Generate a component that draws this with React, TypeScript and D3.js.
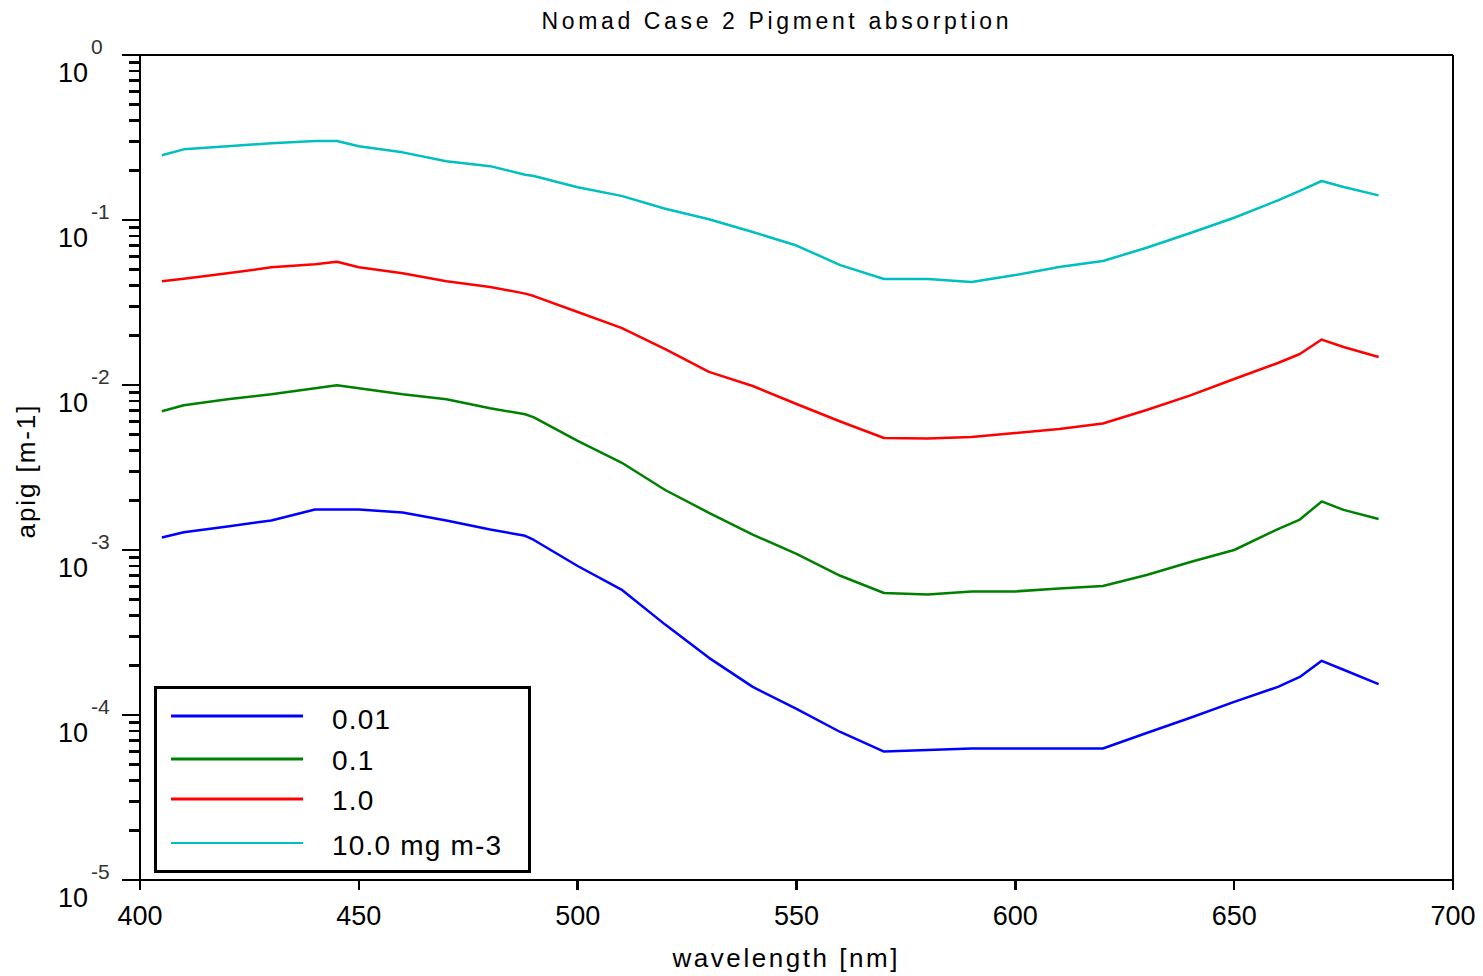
import React from "react";
import * as d3 from "d3";

const wavelengths = [405, 410, 420, 430, 440, 445, 450, 460, 470, 480, 488, 490, 500, 510, 520, 530, 540, 550, 560, 570, 580, 590, 600, 610, 620, 630, 640, 650, 660, 665, 670, 675, 683];

const chl001 = [0.00119, 0.00128, 0.00139, 0.00151, 0.00176, 0.00176, 0.00176, 0.00169, 0.00151, 0.00133, 0.00122, 0.00115, 0.0008, 0.000576, 0.000353, 0.000222, 0.000148, 0.000109, 0.0000789, 0.00006, 0.0000614, 0.0000627, 0.0000627, 0.0000627, 0.0000627, 0.0000778, 0.0000963, 0.00012, 0.000148, 0.00017, 0.000213, 0.000188, 0.000154];

const chl01 = [0.00693, 0.00753, 0.00819, 0.00878, 0.00955, 0.00996, 0.00955, 0.00878, 0.00819, 0.00722, 0.00665, 0.00637, 0.00458, 0.00339, 0.00231, 0.00168, 0.00124, 0.000946, 0.000698, 0.000549, 0.000537, 0.000561, 0.000561, 0.000584, 0.000605, 0.000706, 0.000846, 0.001, 0.00134, 0.00153, 0.00197, 0.00175, 0.00154];

const chl1 = [0.0425, 0.0441, 0.0475, 0.0517, 0.0539, 0.0559, 0.0517, 0.0475, 0.0425, 0.0393, 0.0358, 0.0346, 0.0277, 0.0222, 0.0165, 0.012, 0.00986, 0.00767, 0.00601, 0.00477, 0.00474, 0.00484, 0.00512, 0.00541, 0.00584, 0.00706, 0.00865, 0.01087, 0.01359, 0.01541, 0.01885, 0.017, 0.01478];

const chl10 = [0.247, 0.268, 0.28, 0.292, 0.301, 0.301, 0.28, 0.257, 0.227, 0.212, 0.188, 0.185, 0.158, 0.14, 0.117, 0.101, 0.0846, 0.07, 0.0533, 0.0439, 0.0439, 0.0421, 0.0464, 0.0519, 0.0564, 0.0679, 0.0834, 0.1032, 0.1315, 0.1503, 0.1723, 0.1585, 0.141];

const seriesLabels = ["0.01", "0.1", "1.0", "10.0 mg m-3"];
const seriesColors = ["#0000ff", "#008000", "#ff0000", "#00bfbf"];
const xTicks = [400, 450, 500, 550, 600, 650, 700];
const yExponents = [0, -1, -2, -3, -4, -5];

const W = 1483;
const H = 976;
const L = 140, R = 1453, T = 55, B = 880;

export default function App() {
  const x = d3.scaleLinear().domain([400, 700]).range([L, R]);
  const y = d3.scaleLog().domain([1e-5, 1]).range([B, T]);
  const series = [chl001, chl01, chl1, chl10];
  const line = d3
    .line<number>()
    .x((_, i) => x(wavelengths[i]))
    .y((d) => y(d));

  const minor: number[] = [];
  for (let e = -5; e < 0; e++) {
    for (let m = 2; m <= 9; m++) minor.push(m * Math.pow(10, e));
  }

  const font = "'Liberation Sans', Arial, sans-serif";
  const legendY = [716, 759, 799, 843];
  const legendTextY = [729, 770, 810, 855];

  return (
    <svg
      width={W}
      height={H}
      style={{ position: "absolute", left: 0, top: 0, background: "#fff" }}
      fontFamily={font}
    >
      <rect x={0} y={0} width={W} height={H} fill="#fff" />
      <text x={775} y={29} fontSize={23} textAnchor="middle" textLength={467} lengthAdjust="spacing" fill="#000">
        Nomad Case 2 Pigment absorption
      </text>

      {/* data lines */}
      <g>
        {series.map((s, i) => (
          <path key={i} d={line(s) || ""} fill="none" stroke={seriesColors[i]} strokeWidth={2.5} strokeLinejoin="round" />
        ))}
      </g>

      {/* frame */}
      <g stroke="#000" strokeWidth={2.5} fill="none" shapeRendering="crispEdges">
        <line x1={L - 18} y1={T} x2={R} y2={T} />
        <line x1={L - 18} y1={B} x2={R} y2={B} />
        <line x1={L} y1={T} x2={L} y2={B + 9} />
        <line x1={R} y1={T} x2={R} y2={B + 10} />
        {yExponents.map((e) => (
          <line key={"M" + e} x1={L - 18} x2={L} y1={y(Math.pow(10, e))} y2={y(Math.pow(10, e))} />
        ))}
        {minor.map((v, i) => (
          <line key={"m" + i} x1={L - 11} x2={L} y1={y(v)} y2={y(v)} />
        ))}
        {xTicks.map((t) => (
          <line key={"x" + t} x1={x(t)} x2={x(t)} y1={B} y2={B + 10} />
        ))}
      </g>

      {/* y tick labels */}
      {yExponents.map((e) => {
        const ty = y(Math.pow(10, e));
        return (
          <g key={"yl" + e} fill="#000">
            <text x={88} y={ty + 27} fontSize={27} textAnchor="end">10</text>
            <text x={91} y={ty - 1} fontSize={21} textAnchor="start" fill="#333">{String(e)}</text>
          </g>
        );
      })}

      {/* x tick labels */}
      {xTicks.map((t) => (
        <text key={"xl" + t} x={x(t)} y={925} fontSize={27} textAnchor="middle" fill="#000">
          {t}
        </text>
      ))}

      <text x={785} y={967} fontSize={26} textAnchor="middle" textLength={225} lengthAdjust="spacing" fill="#000">
        wavelength [nm]
      </text>
      <text
        transform="translate(35,472) rotate(-90)"
        fontSize={26}
        textAnchor="middle"
        textLength={133}
        lengthAdjust="spacing"
        fill="#000"
      >
        apig [m-1]
      </text>

      {/* legend */}
      <rect x={155.5} y={687.5} width={374} height={184} fill="#fff" stroke="#000" strokeWidth={3} />
      {seriesLabels.map((lab, i) => (
        <g key={"lg" + i}>
          <line x1={171} x2={303} y1={legendY[i]} y2={legendY[i]} stroke={seriesColors[i]} strokeWidth={i === 3 ? 2 : 3} />
          <text x={332} y={legendTextY[i]} fontSize={28} letterSpacing={1.2} fill="#000">{lab}</text>
        </g>
      ))}
    </svg>
  );
}
